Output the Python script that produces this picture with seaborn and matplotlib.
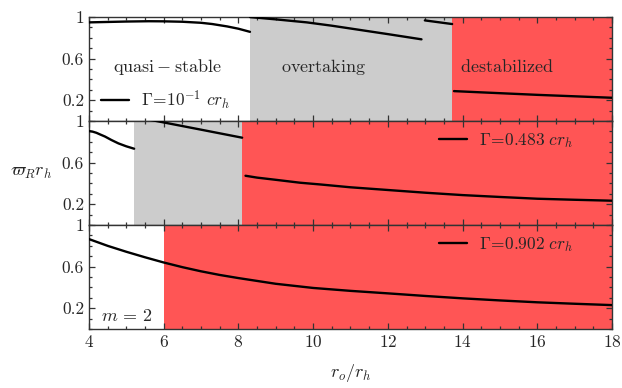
import numpy as np
import pandas as pd
import matplotlib
matplotlib.use("Agg")
import matplotlib.pyplot as plt
import seaborn as sns
from matplotlib.ticker import MultipleLocator, FixedLocator, FixedFormatter

# ---------------- data ----------------
x_ticks = [4, 6, 8, 10, 12, 14, 16, 18]
y_ticks = [0.2, 0.6, 1.0]
y_ticklabels = ["0.2", "0.6", "1"]

# panel 1 (Gamma = 1e-1)
p1_b1_x = [4.0, 4.5, 5.0, 5.6, 6.0, 6.5, 7.0, 7.3, 7.7, 8.0, 8.31]
p1_b1_y = [0.949, 0.953, 0.957, 0.960, 0.959, 0.955, 0.945, 0.933, 0.910, 0.888, 0.858]
p1_b2_x = [8.31, 9.0, 9.83, 10.5, 11.0, 12.0, 12.9]
p1_b2_y = [1.0, 0.978, 0.949, 0.917, 0.890, 0.836, 0.786]
p1_b3_x = [12.99, 13.72]
p1_b3_y = [0.968, 0.933]
p1_b4_x = [13.77, 14.5, 15.0, 16.0, 17.0, 18.0]
p1_b4_y = [0.288, 0.276, 0.268, 0.252, 0.238, 0.224]
p1_regions = [4.0, 8.31, 13.72, 18.0]   # white | gray | red

# panel 2 (Gamma = 0.483)
p2_b1_x = [4.0, 4.1, 4.2, 4.3, 4.43, 4.6, 4.79, 5.0, 5.21]
p2_b1_y = [0.904, 0.898, 0.887, 0.871, 0.851, 0.818, 0.785, 0.757, 0.734]
p2_b2_x = [5.21, 5.81, 6.93, 8.10]
p2_b2_y = [1.043, 1.0, 0.922, 0.840]
p2_b3_x = [8.19, 8.5, 9.0, 9.65, 10.2, 11.0, 12.0, 13.0, 14.0, 15.0, 16.0, 17.0, 18.0]
p2_b3_y = [0.474, 0.456, 0.435, 0.407, 0.390, 0.363, 0.337, 0.311, 0.288, 0.270, 0.253, 0.243, 0.234]
p2_regions = [4.0, 5.21, 8.10, 18.0]

# panel 3 (Gamma = 0.902)
p3_x = [4.0, 4.5, 5.0, 5.5, 6.0, 6.5, 7.0, 7.5, 8.0, 9.0, 10.0, 11.0, 12.0, 13.0, 14.0, 15.0, 16.0, 17.0, 18.0]
p3_y = [0.865, 0.800, 0.743, 0.690, 0.640, 0.595, 0.555, 0.520, 0.490, 0.435, 0.395, 0.367, 0.343, 0.318,
        0.295, 0.275, 0.257, 0.243, 0.230]
p3_regions = [4.0, 6.0, 18.0]

labels = [r"$\Gamma\!=\!10^{-1}\ c r_h$", r"$\Gamma\!=\!0.483\ c r_h$", r"$\Gamma\!=\!0.902\ c r_h$"]
region_text = [r"$\mathrm{quasi-stable}$", r"$\mathrm{overtaking}$", r"$\mathrm{destabilized}$"]

RED = "#FF5555"
GRAY = "#CCCCCC"

# ---------------- style ----------------
sns.set_theme(style="ticks")
plt.rcParams["font.family"] = ["serif"]
plt.rcParams["font.serif"] = ["cmr10", "DejaVu Serif"]
plt.rcParams["mathtext.fontset"] = "cm"
plt.rcParams["axes.formatter.use_mathtext"] = True

fig = plt.figure(figsize=(6.22, 3.88), dpi=100)
left, right, top, bottom = 0.143, 0.984, 0.956, 0.152
h = (top - bottom) / 3
axes = [fig.add_axes([left, top - (i + 1) * h, right - left, h]) for i in range(3)]

panels = [
    ([(p1_b1_x, p1_b1_y), (p1_b2_x, p1_b2_y), (p1_b3_x, p1_b3_y), (p1_b4_x, p1_b4_y)],
     p1_regions, ["white", GRAY, RED]),
    ([(p2_b1_x, p2_b1_y), (p2_b2_x, p2_b2_y), (p2_b3_x, p2_b3_y)],
     p2_regions, ["white", GRAY, RED]),
    ([(p3_x, p3_y)], p3_regions, ["white", RED]),
]

for i, (ax, (branches, regions, cols)) in enumerate(zip(axes, panels)):
    for a, b, c in zip(regions[:-1], regions[1:], cols):
        ax.axvspan(a, b, color=c, lw=0, zorder=0)
    for j, (bx, by) in enumerate(branches):
        df = pd.DataFrame({"x": bx, "y": by})
        sns.lineplot(data=df, x="x", y="y", ax=ax, color="black", lw=1.7,
                     label=labels[i] if j == 0 else None, legend=False, zorder=3)
    ax.set_xlim(4, 18)
    ax.set_ylim(0, 1)
    ax.set_xlabel("")
    ax.set_ylabel("")
    ax.xaxis.set_major_locator(FixedLocator(x_ticks))
    ax.xaxis.set_minor_locator(MultipleLocator(0.5))
    ax.yaxis.set_major_locator(FixedLocator(y_ticks))
    ax.yaxis.set_major_formatter(FixedFormatter(y_ticklabels))
    ax.yaxis.set_minor_locator(MultipleLocator(0.1))
    ax.tick_params(which="both", direction="in", top=True, right=True,
                   color="#333333", width=0.9, labelsize=12.5)
    ax.tick_params(which="major", length=4.5)
    ax.tick_params(which="minor", length=2.5)
    for s in ax.spines.values():
        s.set_color("#333333")
        s.set_linewidth(1.0)
    if i < 2:
        ax.tick_params(labelbottom=False)
    ax.set_facecolor("none")

# legends
leg_pos = [("center left", (0.023, 0.20)), ("center left", (0.669, 0.81)), ("center left", (0.669, 0.81))]
for ax, (loc, anchor) in zip(axes, leg_pos):
    ax.legend(loc=loc, bbox_to_anchor=anchor, frameon=False, fontsize=12.5,
              handlelength=1.6, handletextpad=0.7, borderpad=0, borderaxespad=0)

# region annotations in panel 1
for xpos, txt in zip([6.10, 10.28, 15.19], region_text):
    axes[0].text(xpos, 0.52, txt, ha="center", va="center", fontsize=13)

axes[2].text(4.33, 0.13, r"$m\,=\,2$", ha="left", va="center", fontsize=13)

axes[2].set_xlabel(r"$r_o/r_h$", fontsize=13, labelpad=9)
axes[1].set_ylabel(r"$\varpi_R r_h$", fontsize=13, rotation=0, labelpad=22, va="center")

fig.savefig("out.png", dpi=100)
